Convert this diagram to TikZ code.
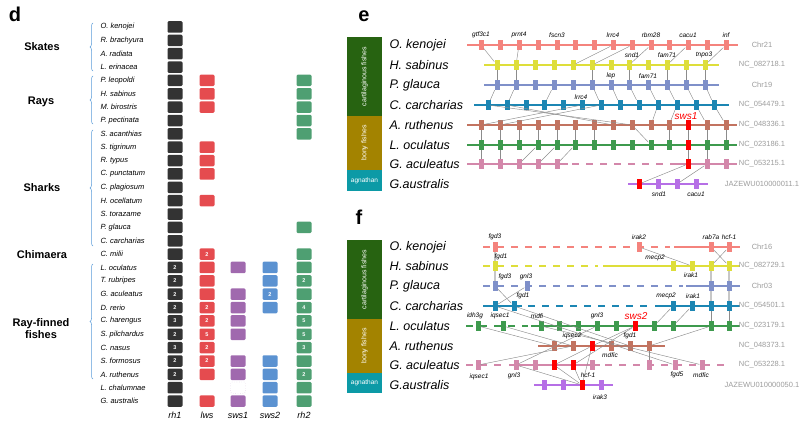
\documentclass[tikz,border=0pt]{standalone}
\usepackage{fontspec}
\setmainfont{Liberation Sans}
\usetikzlibrary{decorations.pathreplacing}

\definecolor{rhone}{HTML}{333333}
\definecolor{lwsred}{HTML}{E54B4F}
\definecolor{swsonepur}{HTML}{A069AE}
\definecolor{swstwoblue}{HTML}{5B92D1}
\definecolor{rhtwogreen}{HTML}{4E9F72}
\definecolor{bracecol}{HTML}{5A9BD8}
\definecolor{cartgreen}{HTML}{276311}
\definecolor{bonyolive}{HTML}{A38300}
\definecolor{agnteal}{HTML}{0C9AA6}
\definecolor{salmon}{HTML}{F4837D}
\definecolor{yel}{HTML}{DEDE3A}
\definecolor{glauc}{HTML}{7F90C9}
\definecolor{carch}{HTML}{1C86B3}
\definecolor{ruth}{HTML}{C27360}
\definecolor{ocul}{HTML}{3E9A4E}
\definecolor{acul}{HTML}{D387AA}
\definecolor{austr}{HTML}{B66FE6}
\definecolor{linkgray}{HTML}{8C8C8C}
\definecolor{accgray}{HTML}{9C9C9C}

\tikzset{
  sq/.style={fill=#1, rounded corners=1.2pt, minimum width=15pt, minimum height=11.5pt,
    inner sep=0pt, text=white, font=\fontsize{5.5}{5.5}\selectfont\bfseries},
  sp/.style={anchor=west, font=\fontsize{7.5}{8}\selectfont\itshape},
  grp/.style={font=\fontsize{11}{12}\selectfont\bfseries, align=center},
  collab/.style={font=\fontsize{9}{9}\selectfont\itshape},
  brc/.style={draw=bracecol, line width=0.5pt, decorate, decoration={brace, amplitude=3pt}},
  panel/.style={font=\fontsize{20}{20}\selectfont\bfseries},
  fish/.style={anchor=west, font=\fontsize{12.5}{13}\selectfont\itshape},
  grpbar/.style={text=white, font=\fontsize{7}{7}\selectfont},
  chrom/.style={draw=#1, line width=1.8pt},
  dchrom/.style={draw=#1, line width=1.8pt, dash pattern=on 7pt off 7pt},
  gene/.style={fill=#1, minimum width=5pt, minimum height=10pt, inner sep=0pt},
  link/.style={draw=linkgray, line width=0.45pt},
  thlink/.style={draw=black!22, line width=2pt},
  glab/.style={font=\fontsize{6.5}{6.5}\selectfont\itshape},
  acc/.style={text=accgray, font=\fontsize{7.5}{8}\selectfont},
  swslab/.style={text=red, font=\fontsize{10}{10}\selectfont\itshape},
}

\begin{document}
\begin{tikzpicture}[x=1pt, y=-1pt]
\useasboundingbox (0,0) rectangle (800,425);

%%% panel d
\node[panel] (d) at (15,14) {d};

\foreach \n/\t [count=\r from 0] in {ok/O. kenojei, rb/R. brachyura, ar/A. radiata, le/L. erinacea,
  pl/P. leopoldi, hs/H. sabinus, mb/M. birostris, pp/P. pectinata, sa/S. acanthias,
  st/S. tigrinum, rt/R. typus, cpu/C. punctatum, cpl/C. plagiosum, ho/H. ocellatum,
  sto/S. torazame, pg/P. glauca, cc/C. carcharias, cm/C. milii, lo/L. oculatus,
  tr/T. rubripes, ga/G. aculeatus, dr/D. rerio, ch/C. harengus, sp/S. pilchardus,
  cn/C. nasus, sf/S. formosus, aru/A. ruthenus, lc/L. chalumnae, gau/G. australis}
  \node[sp] (sp-\n) at (97,{27+13.36*\r}) {\t};

\draw[brc] (93,71) -- (93,23);
\draw[brc] (93,124) -- (93,76);
\draw[brc] (93,246) -- (93,130);
\draw[brc] (93,379) -- (93,264);

\node[grp] (skates) at (42,47) {Skates};
\node[grp] (rays) at (41,102) {Rays};
\node[grp] (sharks) at (42,188) {Sharks};
\node[grp] (chimaera) at (42,255) {Chimaera};
\node[grp] (rayfin) at (41,329) {Ray-finned\\fishes};

% rh1
\foreach \r in {0,...,17,27,28}
  \node[sq=rhone] (rh1-\r) at (175,{27+13.36*\r}) {};
\foreach \r/\k in {18/2,19/2,20/2,21/2,22/3,23/2,24/3,25/2,26/2}
  \node[sq=rhone] (rh1-\r) at (175,{27+13.36*\r}) {\k};
% lws
\foreach \r in {4,5,6,9,10,11,13,18,19,20,26,28}
  \node[sq=lwsred] (lws-\r) at (207,{27+13.36*\r}) {};
\foreach \r/\k in {17/2,21/2,22/2,23/5,24/2,25/2}
  \node[sq=lwsred] (lws-\r) at (207,{27+13.36*\r}) {\k};
% sws1
\foreach \r in {18,20,21,22,23,25,26,28}
  \node[sq=swsonepur] (sws1-\r) at (238,{27+13.36*\r}) {};
\node[sq=white, draw=swsonepur!70, dotted] (sws1-27) at (238,{27+13.36*27}) {};
% sws2
\foreach \r in {18,19,21,25,26,27,28}
  \node[sq=swstwoblue] (sws2-\r) at (270,{27+13.36*\r}) {};
\node[sq=swstwoblue] (sws2-20) at (270,{27+13.36*20}) {2};
% rh2
\foreach \r in {4,5,6,7,8,15,17,18,20,25,27,28}
  \node[sq=rhtwogreen] (rh2-\r) at (304,{27+13.36*\r}) {};
\foreach \r/\k in {19/2,21/4,22/5,23/5,24/3,26/2}
  \node[sq=rhtwogreen] (rh2-\r) at (304,{27+13.36*\r}) {\k};

\node[collab] (c-rh1) at (175,415) {rh1};
\node[collab] (c-lws) at (207,415) {lws};
\node[collab] (c-sws1) at (238,415) {sws1};
\node[collab] (c-sws2) at (270,415) {sws2};
\node[collab] (c-rh2) at (304,415) {rh2};

%%% panel e
\node[panel] (e) at (364,16) {e};
\fill[cartgreen] (347,37) rectangle (382,116);
\fill[bonyolive] (347,116) rectangle (382,170);
\fill[agnteal] (347,170) rectangle (382,191);
\node[grpbar, rotate=90] (e-cart) at (364.5,76.5) {cartilaginous fishes};
\node[grpbar, rotate=90] (e-bony) at (364.5,143) {bony fishes};
\node[grpbar, font=\fontsize{6.5}{6.5}\selectfont] (e-agn) at (364.5,180.5) {agnathan};

\foreach \t/\y [count=\i from 0] in {O. kenojei/45, H. sabinus/65, P. glauca/85,
  C. carcharias/105, A. ruthenus/125, L. oculatus/145, G. aculeatus/164, G.australis/184}
  \node[fish] (e-fish\i) at (386,\y) {\t};

\draw[chrom=salmon] (467,45) -- (738,45);
\draw[chrom=yel] (484,65) -- (719,65);
\draw[chrom=glauc] (484,85) -- (719,85);
\draw[chrom=carch] (474,105) -- (729,105);
\draw[chrom=ruth] (467,125) -- (737,125);
\draw[chrom=ocul] (467,145) -- (737,145);
\draw[chrom=acul] (467,164) -- (568,164);
\draw[dchrom=acul] (572,164) -- (673,164);
\draw[chrom=acul] (673,164) -- (737,164);
\draw[chrom=austr] (628,184) -- (708,184);

\foreach \x [count=\i] in {481,500,519,538,557,575,594,613,632,651,669,688,707,726} {
  \node[gene=salmon] (e0-\i) at (\x,45) {};
  \node[gene=ruth] (e4-\i) at (\x,125) {};
  \node[gene=ocul] (e5-\i) at (\x,145) {};
}
\node[gene=red] (e4-12) at (688,125) {};
\node[gene=red] (e5-12) at (688,145) {};
\foreach \x [count=\i] in {497,516,535,554,573,592,611,629,648,667,686,705} {
  \node[gene=yel] (e1-\i) at (\x,65) {};
  \node[gene=glauc] (e2-\i) at (\x,85) {};
}
\foreach \x [count=\i] in {488,507,526,544,563,582,601,620,639,658,677,696,714}
  \node[gene=carch] (e3-\i) at (\x,105) {};
\foreach \x/\i in {481/1,500/2,519/3,538/4,557/5,707/13,726/14}
  \node[gene=acul] (e6-\i) at (\x,164) {};
\node[gene=red] (e6-12) at (688,164) {};
\node[gene=red] (e7-1) at (639,184) {};
\foreach \x [count=\i from 2] in {658,677,696}
  \node[gene=austr] (e7-\i) at (\x,184) {};

\foreach \a/\b in {1/1,3/2,8/5,9/6,10/8,12/10,14/12}
  \draw[link] (e0-\a) -- (e1-\b);
\foreach \a in {1,2,6,8,10,11,12}
  \draw[link] (e1-\a) -- (e2-\a);
\foreach \a/\b in {1/1,2/2,4/4,6/7,7/8,8/9,9/10,10/11,11/12,12/13}
  \draw[link] (e2-\a) -- (e3-\b);
\foreach \a/\b in {1/9,2/8,6/1,7/2,10/10,11/11,12/13,13/14}
  \draw[link] (e3-\a) -- (e4-\b);
\foreach \a/\b in {1/1,2/2,3/3,4/4,5/5,6/6,7/7,9/10,11/11,12/12,13/13,14/14}
  \draw[link] (e4-\a) -- (e5-\b);
\foreach \a/\b in {1/1,2/2,4/3,5/4,6/5,12/12,13/13}
  \draw[link] (e5-\a) -- (e6-\b);
\draw[link] (e6-12) -- (e7-1);
\draw[link] (e6-13) -- (e7-3);

\foreach \t/\x/\y in {gtf3c1/481/35, prnt4/519/35, fscn3/557/35, lrrc4/613/35, rbm28/651/35,
  cacu1/688/35, inf/726/35, snd1/632/55, fam71/667/55, tnpo3/704/55, lep/611/76,
  fam71/648/76, lrrc4/581/97, snd1/659/194, cacu1/696/194}
  \node[glab] at (\x,\y) {\t};
\node[swslab] (e-sws1) at (686,116) {sws1};

\foreach \t/\y in {Chr21/45, NC\_082718.1/65, Chr19/85, NC\_054479.1/105, NC\_048336.1/125,
  NC\_023186.1/145, NC\_053215.1/164, JAZEWU010000011.1/184}
  \node[acc] at (762,\y) {\t};

%%% panel f
\node[panel] (f) at (359,217) {f};
\fill[cartgreen] (347,240) rectangle (382,319);
\fill[bonyolive] (347,319) rectangle (382,373);
\fill[agnteal] (347,373) rectangle (382,393);
\node[grpbar, rotate=90] (f-cart) at (364.5,279.5) {cartilaginous fishes};
\node[grpbar, rotate=90] (f-bony) at (364.5,346) {bony fishes};
\node[grpbar, font=\fontsize{6.5}{6.5}\selectfont] (f-agn) at (364.5,383) {agnathan};

\foreach \t/\y [count=\i from 0] in {O. kenojei/247, H. sabinus/266, P. glauca/286,
  C. carcharias/306, L. oculatus/326, A. ruthenus/346, G. aculeatus/365, G.australis/385}
  \node[fish] (f-fish\i) at (386,\y) {\t};

\draw[dchrom=salmon] (483,247) -- (670,247);
\draw[chrom=salmon] (674,247) -- (740,247);
\draw[dchrom=yel] (483,266) -- (598,266);
\draw[chrom=yel] (603,266) -- (740,266);
\draw[dchrom=glauc] (483,286) -- (683,286);
\draw[chrom=glauc] (686,286) -- (740,286);
\draw[chrom=carch] (483,306) -- (522,306);
\draw[dchrom=carch] (528,306) -- (652,306);
\draw[chrom=carch] (655,306) -- (740,306);
\draw[dchrom=ocul] (466,326) -- (528,326);
\draw[chrom=ocul] (531,326) -- (740,326);
\draw[chrom=ruth] (538,346) -- (665,346);
\draw[dchrom=acul] (466,365) -- (506,365);
\draw[chrom=acul] (509,365) -- (600,365);
\draw[dchrom=acul] (605,365) -- (730,365);
\draw[chrom=austr] (534,385) -- (613,385);

\foreach \x [count=\i] in {495,639,711,729}
  \node[gene=salmon] (f0-\i) at (\x,247) {};
\foreach \x [count=\i] in {495,673,692,711,729}
  \node[gene=yel] (f1-\i) at (\x,266) {};
\foreach \x [count=\i] in {495,527,711,729}
  \node[gene=glauc] (f2-\i) at (\x,286) {};
\foreach \x [count=\i] in {495,514,673,692,711,729}
  \node[gene=carch] (f3-\i) at (\x,306) {};
\foreach \x [count=\i] in {478,503,541,559,578,597,616,635,654,673,711,729}
  \node[gene=ocul] (f4-\i) at (\x,326) {};
\node[gene=red] (f4-8) at (635,326) {};
\foreach \x [count=\i] in {554,573,592,611,630,649}
  \node[gene=ruth] (f5-\i) at (\x,346) {};
\node[gene=red] (f5-3) at (592,346) {};
\foreach \x [count=\i] in {478,516,535,554,573,592,649,675,702}
  \node[gene=acul] (f6-\i) at (\x,365) {};
\node[gene=red] (f6-4) at (554,365) {};
\node[gene=red] (f6-5) at (573,365) {};
\foreach \x [count=\i] in {544,563,582,601}
  \node[gene=austr] (f7-\i) at (\x,385) {};
\node[gene=red] (f7-3) at (582,385) {};

\draw[thlink] (f0-1) -- (f1-1);
\draw[thlink] (f1-1) -- (f2-1);
\draw[thlink] (f1-4) -- (f2-3);
\draw[thlink] (f1-5) -- (f2-4);
\draw[thlink] (f2-3) -- (f3-5);
\draw[thlink] (f2-4) -- (f3-6);
\draw[link] (f0-2) -- (f1-3);
\draw[link] (f0-3) -- (f1-5);
\draw[link] (f0-4) -- (f1-4);
\draw[link] (f2-1) -- (f3-2);
\draw[link] (f2-2) -- (f3-1);
\draw[link] (f3-3) -- (f4-9);
\draw[link] (f3-4) -- (f4-10);
\draw[link] (f3-5) -- (f4-11);
\draw[link] (f3-6) -- (f4-12);
\draw[link] (f3-2) -- (f5-5);
\draw[link] (f3-1) -- (f6-8);
\draw[link] (f4-3) -- (f6-9);
\draw[link] (f4-1) -- (f5-1);
\draw[link] (f4-2) -- (f5-2);
\draw[link] (f6-1) -- (f5-2);
\draw[link] (f4-6) -- (f6-2);
\draw[link] (f5-3) -- (f4-8);
\draw[link] (f5-3) -- (f6-4);
\draw[link] (f6-5) -- (f4-8);
\draw[link] (f5-6) -- (f4-11);
\draw[link] (f5-6) -- (f6-7);
\draw[link] (f6-2) -- (f7-3);
\draw[link] (f6-4) -- (f7-3);
\draw[link] (f6-5) -- (f7-3);
\draw[link] (f5-3) -- (f7-3);

\foreach \t/\x/\y in {fgd3/495/237, irak2/639/237, rab7a/711/237, hcf-1/729/237,
  fgd1/501/257, mecp2/655/258, irak1/691/275, fgd3/505/277, gnl3/526/277,
  fgd1/523/296, mecp2/666/296, irak1/693/296, idh3g/475/316, iqsec1/500/316,
  mdfi/537/316, gnl3/597/316, iqsec2/572/336, fgd1/630/336, mdfic/610/355,
  iqsec1/479/377, gnl3/514/376, hcf-1/588/375, fgd5/677/375, mdfic/701/375, irak3/600/397}
  \node[glab] at (\x,\y) {\t};
\node[swslab] (f-sws2) at (636,316) {sws2};

\foreach \t/\y in {Chr16/247, NC\_082729.1/266, Chr03/286, NC\_054501.1/306, NC\_023179.1/326,
  NC\_048373.1/346, NC\_053228.1/365, JAZEWU010000050.1/385}
  \node[acc] at (762,\y) {\t};

\end{tikzpicture}
\end{document}
